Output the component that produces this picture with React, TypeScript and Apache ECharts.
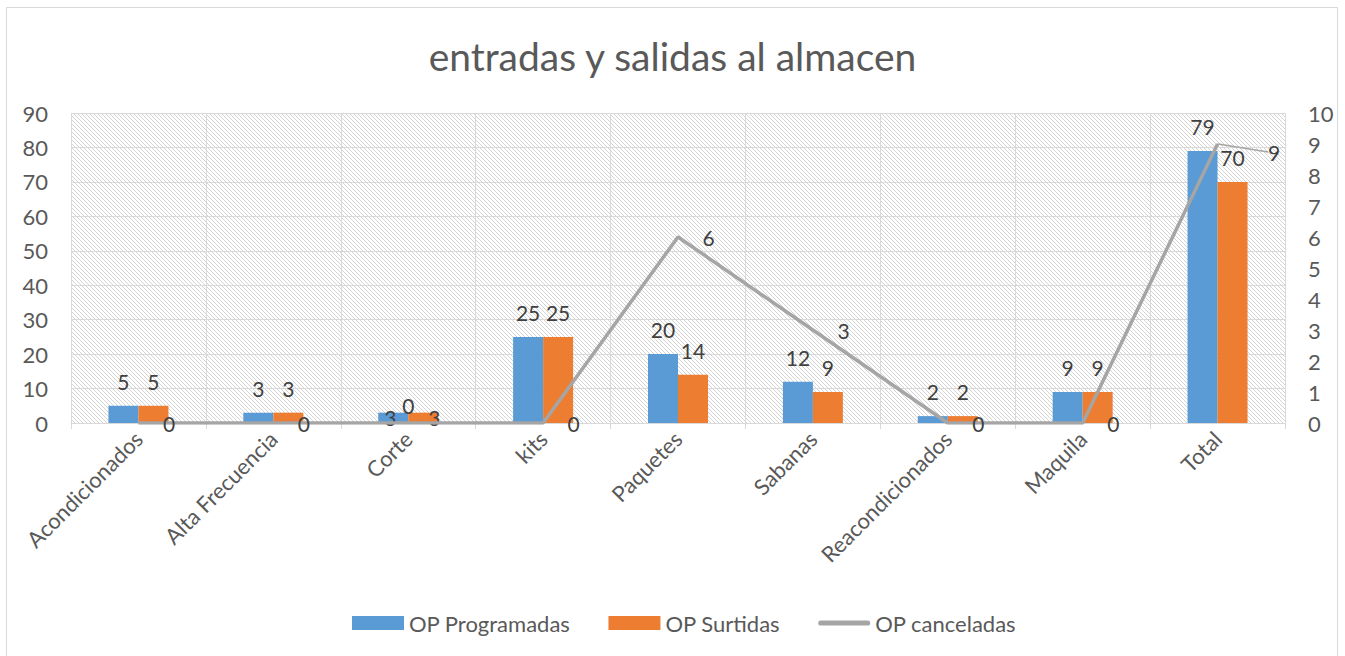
import React, { useEffect, useRef } from "react";
import * as echarts from "echarts";

const categories = [
  "Acondicionados",
  "Alta Frecuencia",
  "Corte",
  "kits",
  "Paquetes",
  "Sabanas",
  "Reacondicionados",
  "Maquila",
  "Total",
];
const programadas = [5, 3, 3, 25, 20, 12, 2, 9, 79];
const surtidas = [5, 3, 3, 25, 14, 9, 2, 9, 70];
const canceladas = [0, 0, 0, 0, 6, 3, 0, 0, 9];
const seriesNames = ["OP Programadas", "OP Surtidas", "OP canceladas"];
const leftAxis = { min: 0, max: 90, interval: 10 };
const rightAxis = { min: 0, max: 10, interval: 1 };
const titleText = "entradas y salidas al almacen";

const FONT = "Lato, 'Open Sans', sans-serif";
const BLUE = "#5B9BD5";
const ORANGE = "#ED7D31";
const GRAY = "#A5A5A5";

function makeHatch(): HTMLCanvasElement {
  const c = document.createElement("canvas");
  c.width = 8;
  c.height = 8;
  const ctx = c.getContext("2d")!;
  ctx.fillStyle = "#ffffff";
  ctx.fillRect(0, 0, 8, 8);
  ctx.strokeStyle = "#d4d4d4";
  ctx.lineWidth = 1;
  for (const k of [-8, -4, 0, 4, 8]) {
    ctx.beginPath();
    ctx.moveTo(k, 0);
    ctx.lineTo(k + 8, 8);
    ctx.stroke();
  }
  return c;
}

export default function App() {
  const ref = useRef<HTMLDivElement>(null);
  useEffect(() => {
    if (!ref.current) return;
    const chart = echarts.init(ref.current, undefined, { renderer: "svg" });
    const corteIdx = categories.indexOf("Corte");
    const totalIdx = categories.indexOf("Total");
    const option: any = {
      animation: false,
      backgroundColor: "#ffffff",
      title: {
        text: titleText,
        left: "center",
        top: 31,
        textStyle: { fontFamily: FONT, fontSize: 39, fontWeight: "normal", color: "#595959" },
      },
      graphic: [
        {
          type: "rect",
          shape: { x: 6.5, y: 7.5, width: 1331, height: 700 },
          style: { fill: "none", stroke: "#d9d9d9", lineWidth: 1 },
          silent: true,
        },
      ],
      legend: {
        left: 347,
        top: 607,
        itemWidth: 52,
        itemHeight: 14,
        itemGap: 38,
        textStyle: { fontFamily: FONT, fontSize: 22, color: "#595959" },
        data: [
          { name: seriesNames[0], icon: "rect" },
          { name: seriesNames[1], icon: "rect" },
          { name: seriesNames[2], icon: "path://M2,0L38,0A2,2,0,0,1,38,4L2,4A2,2,0,0,1,2,0Z" },
        ],
      },
      grid: {
        left: 71,
        right: 60,
        top: 113,
        bottom: 233,
        show: true,
        borderWidth: 0,
        backgroundColor: { image: makeHatch(), repeat: "repeat" },
      },
      xAxis: {
        type: "category",
        data: categories,
        axisLine: { lineStyle: { color: "#d9d9d9", width: 1 } },
        axisTick: { show: true, length: 6, lineStyle: { color: "#d9d9d9" } },
        splitLine: { show: true, interval: 0, lineStyle: { color: "#d9d9d9", width: 1 } },
        axisLabel: {
          interval: 0,
          rotate: 45,
          margin: 12,
          fontFamily: FONT,
          fontSize: 22,
          color: "#595959",
        },
      },
      yAxis: [
        {
          type: "value",
          ...leftAxis,
          axisLine: { show: false },
          axisTick: { show: false },
          splitLine: { lineStyle: { color: "#d9d9d9", width: 1 } },
          axisLabel: { margin: 23, fontFamily: FONT, fontSize: 22, color: "#595959" },
        },
        {
          type: "value",
          ...rightAxis,
          position: "right",
          axisLine: { show: false },
          axisTick: { show: false },
          splitLine: { show: false },
          axisLabel: { margin: 23, fontFamily: FONT, fontSize: 22, color: "#595959" },
        },
      ],
      series: [
        {
          name: seriesNames[0],
          type: "bar",
          yAxisIndex: 0,
          barWidth: 30,
          barGap: "0%",
          itemStyle: { color: BLUE },
          label: {
            show: true,
            position: "top",
            distance: 14,
            fontFamily: FONT,
            fontSize: 21,
            color: "#404040",
          },
          data: programadas.map((v, i) =>
            i === corteIdx ? { value: v, label: { offset: [-3, 29] } } : v
          ),
        },
        {
          name: seriesNames[1],
          type: "bar",
          yAxisIndex: 0,
          barWidth: 30,
          barGap: "0%",
          itemStyle: { color: ORANGE },
          label: {
            show: true,
            position: "top",
            distance: 14,
            fontFamily: FONT,
            fontSize: 21,
            color: "#404040",
          },
          data: surtidas.map((v, i) =>
            i === corteIdx ? { value: v, label: { offset: [11, 29] } } : v
          ),
        },
        {
          name: seriesNames[2],
          type: "line",
          yAxisIndex: 1,
          symbol: "circle",
          symbolSize: 1,
          showSymbol: true,
          itemStyle: { color: GRAY },
          lineStyle: { color: GRAY, width: 3.5 },
          label: {
            show: true,
            position: "right",
            distance: 24,
            fontFamily: FONT,
            fontSize: 21,
            color: "#404040",
          },
          labelLine: { show: false, lineStyle: { color: GRAY, width: 1.5 } },
          labelLayout: (p: any) => (p.dataIndex === totalIdx ? { dx: 26, dy: 8 } : {}),
          data: canceladas.map((v, i) => {
            if (i === corteIdx) return { value: v, label: { position: "top", distance: 7 } };
            if (i === totalIdx) return { value: v, labelLine: { show: true } };
            return v;
          }),
        },
      ],
    };
    chart.setOption(option);
    return () => chart.dispose();
  }, []);
  return (
    <div
      ref={ref}
      style={{ position: "absolute", left: 0, top: 0, width: 1345, height: 656 }}
    />
  );
}
